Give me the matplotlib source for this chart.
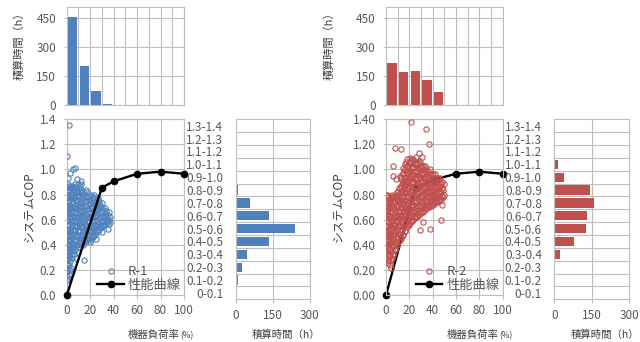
import matplotlib
matplotlib.use('Agg')
import matplotlib.pyplot as plt

plt.rcParams['font.family'] = ['Noto Sans CJK JP', 'DejaVu Sans']
plt.rcParams['font.size'] = 8

# ---------------------------------------------------------------------------
# data
# ---------------------------------------------------------------------------
load_bins = ['0-10', '10-20', '20-30', '30-40', '40-50',
             '50-60', '60-70', '70-80', '80-90', '90-100']
r1_load_hours = [455, 205, 75, 5, 0, 0, 0, 0, 0, 0]
r2_load_hours = [220, 170, 180, 130, 70, 0, 0, 0, 0, 0]

cop_bins = ['0-0.1', '0.1-0.2', '0.2-0.3', '0.3-0.4', '0.4-0.5', '0.5-0.6', '0.6-0.7',
            '0.7-0.8', '0.8-0.9', '0.9-1.0', '1.0-1.1', '1.1-1.2', '1.2-1.3', '1.3-1.4']
r1_cop_hours = [0, 8, 27, 44, 133, 240, 135, 56, 8, 0, 0, 0, 0, 0]
r2_cop_hours = [0, 3, 3, 21, 79, 128, 131, 157, 143, 40, 13, 1, 0, 3]

r1_curve_load = [0, 30, 40, 60, 80, 100]
r1_curve_cop = [0.0, 0.855, 0.905, 0.965, 0.982, 0.965]
r2_curve_load = [0, 25, 40, 60, 80, 100]
r2_curve_cop = [0.0, 0.85, 0.915, 0.965, 0.982, 0.965]

# (load %, system COP) of the measured hours
r1_points = [
    (0.3, 0.12), (0.6, 0.15), (0.4, 0.19), (0.8, 0.22), (0.5, 0.26), (1.0, 0.29), (0.3, 0.32),
    (0.7, 0.35), (1.2, 0.38), (0.4, 0.41), (0.9, 0.44), (0.5, 0.47), (1.3, 0.50), (0.3, 0.53),
    (0.8, 0.56), (0.5, 0.59), (1.1, 0.62), (0.4, 0.65), (0.9, 0.68), (0.6, 0.71), (1.4, 0.74),
    (0.3, 0.77), (0.8, 0.80), (0.5, 0.83), (1.2, 0.86), (0.7, 0.88),
    (1.8, 0.16), (2.0, 0.24), (1.7, 0.31), (2.2, 0.40), (1.9, 0.48), (2.3, 0.57), (1.6, 0.66),
    (2.1, 0.75), (1.8, 0.84),
    (3.2, 0.27), (3.5, 0.35), (3.0, 0.43), (3.8, 0.50), (3.3, 0.58), (3.6, 0.65), (3.1, 0.72),
    (3.9, 0.79), (3.4, 0.86),
    (4.6, 0.30), (5.0, 0.38), (4.4, 0.45), (5.3, 0.52), (4.8, 0.60), (5.5, 0.67), (4.5, 0.74),
    (5.2, 0.81), (4.9, 0.87),
    (6.1, 0.33), (6.5, 0.41), (6.0, 0.49), (6.8, 0.56), (6.3, 0.63), (6.9, 0.70), (6.2, 0.77),
    (6.6, 0.84),
    (7.4, 0.36), (7.9, 0.44), (7.3, 0.51), (8.2, 0.58), (7.6, 0.65), (8.4, 0.72), (7.8, 0.79),
    (8.1, 0.86),
    (9.2, 0.40), (9.6, 0.47), (9.0, 0.54), (9.9, 0.61), (9.4, 0.68), (10.0, 0.75), (9.3, 0.82),
    (9.8, 0.88),
    (10.8, 0.38), (11.3, 0.45), (10.6, 0.52), (11.5, 0.59), (11.0, 0.66), (11.7, 0.73),
    (10.9, 0.80), (11.4, 0.87),
    (12.5, 0.42), (13.0, 0.49), (12.3, 0.56), (13.2, 0.63), (12.7, 0.70), (13.4, 0.77),
    (12.6, 0.84),
    (14.3, 0.40), (14.8, 0.47), (14.1, 0.54), (15.0, 0.61), (14.5, 0.68), (15.2, 0.75),
    (14.6, 0.82),
    (16.0, 0.43), (16.5, 0.50), (15.8, 0.57), (16.8, 0.64), (16.2, 0.71), (16.9, 0.78),
    (16.4, 0.84),
    (17.6, 0.44), (18.1, 0.51), (17.5, 0.58), (18.4, 0.65), (17.9, 0.72), (18.6, 0.79),
    (19.3, 0.45), (19.8, 0.52), (19.1, 0.59), (20.1, 0.66), (19.6, 0.73), (20.3, 0.80),
    (21.0, 0.44), (21.5, 0.50), (20.9, 0.57), (21.8, 0.63), (21.3, 0.70), (22.0, 0.77),
    (22.7, 0.46), (23.2, 0.53), (22.5, 0.60), (23.5, 0.67), (23.0, 0.74), (23.6, 0.80),
    (24.4, 0.48), (24.9, 0.55), (24.2, 0.62), (25.2, 0.69), (24.7, 0.76),
    (26.1, 0.50), (26.6, 0.57), (25.9, 0.64), (26.9, 0.71), (26.4, 0.77),
    (27.8, 0.52), (28.3, 0.58), (27.6, 0.65), (28.6, 0.72),
    (29.5, 0.54), (30.0, 0.60), (29.3, 0.66), (30.3, 0.73),
    (31.2, 0.55), (31.8, 0.62), (31.0, 0.68),
    (32.9, 0.56), (33.4, 0.63), (32.7, 0.69),
    (34.6, 0.58), (35.1, 0.64), (36.0, 0.60), (35.5, 0.53), (36.8, 0.62),
    (2.0, 1.35), (0.6, 1.11), (7.0, 1.01), (5.0, 1.00), (3.0, 0.97), (1.5, 0.93), (9.0, 0.92),
    (12.0, 0.91), (15.0, 0.28), (8.0, 0.30), (10.0, 0.34), (4.0, 0.22), (20.0, 0.42),
    (25.0, 0.45), (30.0, 0.50),
    (1.0, 0.14), (0.2, 0.20), (1.3, 0.25), (0.2, 0.28), (1.5, 0.34), (0.2, 0.37), (1.6, 0.43),
    (0.2, 0.46), (1.7, 0.52), (0.2, 0.56), (1.5, 0.60), (0.2, 0.64), (1.6, 0.69), (0.2, 0.72),
    (1.5, 0.78), (0.2, 0.82), (1.6, 0.87),
    (2.7, 0.20), (2.8, 0.30), (2.6, 0.37), (2.9, 0.45), (2.7, 0.53), (2.8, 0.61), (2.6, 0.69),
    (2.9, 0.77), (2.7, 0.85),
    (4.1, 0.33), (4.3, 0.41), (4.0, 0.48), (4.2, 0.55), (4.1, 0.62), (4.3, 0.70), (4.0, 0.77),
    (4.2, 0.84),
    (5.7, 0.35), (5.9, 0.43), (5.6, 0.52), (5.8, 0.60), (5.7, 0.69), (5.9, 0.78), (5.6, 0.86),
    (7.0, 0.39), (7.2, 0.47), (6.9, 0.55), (7.1, 0.62), (7.0, 0.69), (7.2, 0.76), (6.9, 0.83),
    (7.1, 0.88),
    (8.6, 0.40), (8.8, 0.48), (8.5, 0.55), (8.7, 0.62), (8.6, 0.69), (8.8, 0.76), (8.5, 0.83),
    (10.3, 0.42), (10.5, 0.50), (10.2, 0.57), (10.4, 0.64), (10.3, 0.71), (10.5, 0.78),
    (10.2, 0.85),
    (12.0, 0.40), (12.1, 0.47), (11.9, 0.54), (12.1, 0.61), (12.0, 0.68), (12.1, 0.75),
    (11.9, 0.82), (12.0, 0.88),
    (13.7, 0.44), (13.9, 0.51), (13.6, 0.58), (13.8, 0.66), (13.7, 0.73), (13.9, 0.80),
    (15.4, 0.42), (15.6, 0.49), (15.3, 0.56), (15.5, 0.64), (15.4, 0.71), (15.6, 0.79),
    (17.1, 0.45), (17.3, 0.53), (17.0, 0.61), (17.2, 0.68), (17.1, 0.75), (17.3, 0.82),
    (18.8, 0.47), (19.0, 0.55), (18.7, 0.62), (18.9, 0.69), (18.8, 0.76),
    (20.5, 0.47), (20.7, 0.54), (20.4, 0.61), (20.6, 0.69), (20.5, 0.76),
    (22.2, 0.48), (22.4, 0.55), (22.1, 0.62), (22.3, 0.70), (22.2, 0.78),
    (23.9, 0.50), (24.1, 0.57), (23.8, 0.64), (24.0, 0.72),
    (25.6, 0.52), (25.8, 0.59), (25.5, 0.66), (25.7, 0.73),
    (27.2, 0.54), (27.4, 0.61), (27.1, 0.68), (27.3, 0.75),
    (28.9, 0.55), (29.1, 0.62), (28.8, 0.69),
    (30.6, 0.56), (30.8, 0.63), (30.5, 0.70),
    (32.2, 0.58), (32.4, 0.65), (34.0, 0.60), (33.9, 0.67), (35.8, 0.57), (37.0, 0.58),
    (36.2, 0.66),
]

r2_points = [
    (0.4, 0.30), (0.8, 0.35), (0.3, 0.40), (1.1, 0.45), (0.5, 0.50), (0.9, 0.55), (0.3, 0.60),
    (1.2, 0.65), (0.6, 0.70), (1.0, 0.75), (0.4, 0.80),
    (1.8, 0.28), (2.2, 0.33), (1.6, 0.38), (2.4, 0.43), (1.9, 0.48), (2.5, 0.53), (1.7, 0.58),
    (2.3, 0.63), (2.0, 0.68), (2.6, 0.73),
    (3.3, 0.24), (3.6, 0.31), (3.1, 0.37), (3.9, 0.43), (3.4, 0.49), (4.0, 0.55), (3.2, 0.61),
    (3.8, 0.67), (3.5, 0.72), (4.1, 0.77),
    (5.0, 0.30), (5.4, 0.36), (4.8, 0.42), (5.7, 0.48), (5.1, 0.54), (5.8, 0.60), (4.9, 0.66),
    (5.5, 0.71), (5.2, 0.77),
    (6.4, 0.33), (6.9, 0.39), (6.2, 0.45), (7.1, 0.51), (6.6, 0.57), (7.3, 0.63), (6.5, 0.69),
    (7.0, 0.75),
    (8.0, 0.36), (8.5, 0.42), (7.8, 0.48), (8.8, 0.54), (8.2, 0.60), (8.9, 0.66), (8.3, 0.72),
    (8.7, 0.78),
    (9.6, 0.40), (10.1, 0.46), (9.4, 0.52), (10.4, 0.58), (9.8, 0.64), (10.5, 0.70),
    (9.9, 0.76), (10.3, 0.82),
    (11.3, 0.43), (11.8, 0.49), (11.1, 0.55), (12.1, 0.61), (11.5, 0.67), (12.2, 0.73),
    (11.6, 0.79), (12.0, 0.85),
    (13.0, 0.46), (13.5, 0.52), (12.8, 0.58), (13.8, 0.64), (13.2, 0.70), (13.9, 0.76),
    (13.3, 0.82), (13.7, 0.88), (13.1, 0.94),
    (14.7, 0.48), (15.2, 0.55), (14.5, 0.61), (15.5, 0.67), (14.9, 0.73), (15.6, 0.79),
    (15.0, 0.85), (15.4, 0.91), (14.8, 0.97),
    (16.4, 0.51), (16.9, 0.58), (16.2, 0.64), (17.2, 0.70), (16.6, 0.76), (17.3, 0.82),
    (16.7, 0.88), (17.1, 0.94), (16.5, 1.00), (17.0, 1.06),
    (18.1, 0.54), (18.6, 0.60), (17.9, 0.67), (18.9, 0.73), (18.3, 0.79), (19.0, 0.85),
    (18.4, 0.91), (18.8, 0.97), (18.2, 1.03),
    (19.8, 0.56), (20.3, 0.62), (19.6, 0.69), (20.6, 0.75), (20.0, 0.81), (20.7, 0.87),
    (20.1, 0.93), (20.5, 0.99), (19.9, 1.05), (20.4, 1.09),
    (21.5, 0.58), (22.0, 0.64), (21.3, 0.71), (22.3, 0.77), (21.7, 0.83), (22.4, 0.89),
    (21.8, 0.95), (22.2, 1.01), (21.6, 1.07),
    (23.2, 0.60), (23.7, 0.66), (23.0, 0.72), (24.0, 0.78), (23.4, 0.84), (24.1, 0.90),
    (23.5, 0.96), (23.9, 1.02), (23.3, 1.08),
    (24.9, 0.61), (25.4, 0.67), (24.7, 0.74), (25.7, 0.80), (25.1, 0.86), (25.8, 0.92),
    (25.2, 0.98), (25.6, 1.04),
    (26.6, 0.62), (27.1, 0.68), (26.4, 0.75), (27.4, 0.81), (26.8, 0.87), (27.5, 0.93),
    (26.9, 0.99), (27.3, 1.05),
    (28.3, 0.64), (28.8, 0.70), (28.1, 0.76), (29.1, 0.82), (28.5, 0.88), (29.2, 0.94),
    (28.6, 1.00), (29.0, 1.06),
    (30.0, 0.65), (30.5, 0.71), (29.8, 0.78), (30.8, 0.84), (30.2, 0.90), (30.9, 0.96),
    (30.3, 1.02),
    (31.7, 0.66), (32.2, 0.72), (31.5, 0.79), (32.5, 0.85), (31.9, 0.91), (32.6, 0.97),
    (32.0, 1.03),
    (33.4, 0.68), (33.9, 0.74), (33.2, 0.80), (34.2, 0.86), (33.6, 0.92), (34.3, 0.98),
    (33.7, 1.03),
    (35.1, 0.69), (35.6, 0.75), (34.9, 0.81), (35.9, 0.87), (35.3, 0.93), (36.0, 0.99),
    (36.8, 0.70), (37.3, 0.76), (36.6, 0.82), (37.6, 0.88), (37.0, 0.94), (37.7, 1.00),
    (38.5, 0.71), (39.0, 0.77), (38.3, 0.83), (39.3, 0.89), (38.7, 0.95),
    (40.2, 0.72), (40.7, 0.78), (40.0, 0.84), (41.0, 0.90), (40.4, 0.96),
    (41.9, 0.73), (42.4, 0.79), (41.7, 0.85), (42.7, 0.91), (42.1, 0.96),
    (43.6, 0.74), (44.1, 0.80), (43.4, 0.86), (44.4, 0.92),
    (45.3, 0.75), (45.8, 0.81), (45.1, 0.87), (46.1, 0.93),
    (47.0, 0.76), (47.5, 0.82), (46.8, 0.88), (47.8, 0.90),
    (48.6, 0.78), (49.0, 0.84), (48.4, 0.72),
    (21.0, 1.38), (34.0, 1.32), (37.0, 1.20), (7.4, 1.17), (13.0, 1.16), (28.0, 1.13),
    (26.0, 1.10), (31.0, 1.10), (6.0, 1.03), (6.0, 0.95), (12.0, 0.95), (8.5, 0.92),
    (1.0, 0.80), (5.0, 0.80), (9.0, 0.80), (1.0, 0.74), (29.0, 0.52), (38.0, 0.53),
    (47.0, 0.60), (32.0, 0.58), (2.0, 0.26), (4.0, 0.22),
    (0.2, 0.33), (1.4, 0.38), (0.2, 0.43), (1.5, 0.48), (0.2, 0.53), (1.4, 0.58), (0.2, 0.63),
    (1.5, 0.68), (0.2, 0.73), (1.4, 0.78),
    (2.8, 0.27), (2.9, 0.36), (2.7, 0.41), (2.9, 0.46), (2.8, 0.51), (3.0, 0.57), (2.7, 0.64),
    (2.9, 0.70), (2.8, 0.76),
    (4.4, 0.28), (4.6, 0.34), (4.3, 0.40), (4.5, 0.46), (4.4, 0.52), (4.6, 0.58), (4.3, 0.63),
    (4.5, 0.69), (4.4, 0.75),
    (5.9, 0.32), (6.1, 0.39), (5.8, 0.45), (6.0, 0.51), (5.9, 0.57), (6.1, 0.63), (5.8, 0.69),
    (6.0, 0.75), (5.9, 0.79),
    (7.5, 0.37), (7.6, 0.43), (7.4, 0.50), (7.6, 0.56), (7.5, 0.62), (7.6, 0.68), (7.4, 0.74),
    (7.6, 0.79),
    (9.1, 0.40), (9.2, 0.46), (9.0, 0.52), (9.2, 0.58), (9.1, 0.64), (9.2, 0.70), (9.0, 0.76),
    (9.2, 0.82),
    (10.8, 0.43), (10.9, 0.49), (10.7, 0.55), (10.9, 0.61), (10.8, 0.67), (10.9, 0.73),
    (10.7, 0.79), (10.9, 0.85),
    (12.5, 0.45), (12.6, 0.51), (12.4, 0.57), (12.6, 0.63), (12.5, 0.69), (12.6, 0.75),
    (12.4, 0.81), (12.6, 0.87), (12.5, 0.92),
    (14.2, 0.48), (14.3, 0.54), (14.1, 0.60), (14.3, 0.66), (14.2, 0.72), (14.3, 0.78),
    (14.1, 0.84), (14.3, 0.90), (14.2, 0.96), (14.3, 1.01),
    (15.9, 0.51), (16.0, 0.57), (15.8, 0.63), (16.0, 0.69), (15.9, 0.75), (16.0, 0.81),
    (15.8, 0.87), (16.0, 0.93), (15.9, 0.99), (16.0, 1.04),
    (17.6, 0.55), (17.7, 0.61), (17.5, 0.67), (17.7, 0.73), (17.6, 0.79), (17.7, 0.85),
    (17.5, 0.91), (17.7, 0.97), (17.6, 1.03), (17.7, 1.08),
    (19.3, 0.57), (19.4, 0.63), (19.2, 0.69), (19.4, 0.75), (19.3, 0.81), (19.4, 0.87),
    (19.2, 0.93), (19.4, 0.99), (19.3, 1.05),
    (21.0, 0.59), (21.1, 0.65), (20.9, 0.71), (21.1, 0.77), (21.0, 0.83), (21.1, 0.89),
    (20.9, 0.95), (21.1, 1.01), (21.0, 1.07),
    (22.7, 0.60), (22.8, 0.66), (22.6, 0.72), (22.8, 0.78), (22.7, 0.84), (22.8, 0.90),
    (22.6, 0.96), (22.8, 1.02), (22.7, 1.08),
    (24.4, 0.62), (24.5, 0.68), (24.3, 0.74), (24.5, 0.80), (24.4, 0.86), (24.5, 0.92),
    (24.3, 0.98), (24.5, 1.04),
    (26.1, 0.63), (26.2, 0.69), (26.0, 0.75), (26.2, 0.81), (26.1, 0.87), (26.2, 0.93),
    (26.0, 0.99), (26.2, 1.05),
    (27.8, 0.65), (27.9, 0.71), (27.7, 0.77), (27.9, 0.83), (27.8, 0.89), (27.9, 0.95),
    (27.7, 1.01), (27.9, 1.07),
    (29.5, 0.66), (29.6, 0.72), (29.4, 0.78), (29.6, 0.84), (29.5, 0.90), (29.6, 0.96),
    (29.4, 1.02),
    (31.2, 0.67), (31.3, 0.73), (31.1, 0.79), (31.3, 0.85), (31.2, 0.91), (31.3, 0.97),
    (31.1, 1.03),
    (32.9, 0.69), (33.0, 0.75), (32.8, 0.81), (33.0, 0.87), (32.9, 0.93), (33.0, 0.99),
    (34.6, 0.70), (34.7, 0.76), (34.5, 0.82), (34.7, 0.88), (34.6, 0.94), (34.7, 1.00),
    (36.3, 0.71), (36.4, 0.77), (36.2, 0.83), (36.4, 0.89), (36.3, 0.95),
    (38.0, 0.72), (38.1, 0.78), (37.9, 0.84), (38.1, 0.90), (38.0, 0.96),
    (39.7, 0.73), (39.8, 0.79), (39.6, 0.85), (39.8, 0.91), (39.7, 0.96),
    (41.4, 0.74), (41.5, 0.80), (41.3, 0.86), (41.5, 0.92),
    (43.1, 0.75), (43.2, 0.81), (43.0, 0.87), (43.2, 0.93),
    (44.8, 0.76), (44.9, 0.82), (44.7, 0.88), (44.9, 0.93),
    (46.5, 0.77), (46.6, 0.83), (46.4, 0.89),
    (48.0, 0.79), (48.1, 0.85), (49.5, 0.80), (49.3, 0.88),
]

# ---------------------------------------------------------------------------
# styling
# ---------------------------------------------------------------------------
GRID = '#BFBFBF'
TEXT = '#595959'
LABEL = '#404040'
BLUE = '#4F81BD'
RED = '#C0504D'
W, H = 640., 342.


def place(fig, left, right, top, bottom):
    """ add an axes given pixel edges of the reference """
    return fig.add_axes([left / W, 1 - bottom / H, (right - left) / W, (bottom - top) / H])


def base_style(ax):
    for s in ax.spines.values():
        s.set_color(GRID)
        s.set_linewidth(0.8)
    ax.tick_params(colors=TEXT, color=GRID, labelsize=8.5)
    ax.set_axisbelow(True)


def load_hist(ax, hours, color):
    """ load-ratio histogram above the scatter """
    centers = [5 + 10 * i for i in range(len(load_bins))]
    ax.bar(centers, hours, width=8, color=color)
    ax.set_xlim(0, 100)
    ax.set_ylim(0, 507)
    ax.set_xticks(range(0, 101, 10))
    ax.set_yticks([0, 150, 300, 450])
    ax.tick_params(axis='x', length=0, labelbottom=False)
    ax.tick_params(axis='y', length=2.5, direction='out', pad=5)
    ax.grid(True, color=GRID, linewidth=0.8)
    base_style(ax)


def cop_scatter(ax, points, curve_x, curve_y, color, label, fmt, curve_on_top):
    """ system COP vs load ratio with the performance curve """
    xs = [p[0] for p in points]
    ys = [p[1] for p in points]
    ax.plot(xs, ys, 'o', linestyle='none',
            markerfacecolor='none',
            markeredgecolor=color,
            markersize=3.8,
            markeredgewidth=0.8,
            label=label,
            zorder=3)
    ax.plot(curve_x, curve_y, '-o',
            color='black',
            linewidth=1.7,
            markersize=4.5,
            label='性能曲線',
            clip_on=False,
            zorder=4 if curve_on_top else 2)
    ax.set_xlim(0, 100)
    ax.set_ylim(0, 1.4)
    ax.set_xticks(range(0, 101, 20))
    ax.set_yticks([0.2 * k for k in range(8)])
    ax.set_yticklabels([fmt % (0.2 * k) for k in range(8)])
    ax.tick_params(axis='y', length=2.5, direction='out', pad=5)
    ax.tick_params(axis='x', length=3, direction='out', pad=3)
    ax.grid(True, color=GRID, linewidth=0.8)
    ax.legend(loc='lower right',
              frameon=False,
              fontsize=9.5,
              numpoints=1,
              handlelength=2.0,
              handletextpad=0.3,
              labelspacing=0.05,
              borderaxespad=0.15,
              borderpad=0.1,
              labelcolor=TEXT)
    base_style(ax)


def cop_hist(ax, hours, color):
    """ hours per COP class, horizontal bars """
    pos = list(range(len(cop_bins)))
    ax.barh(pos, hours, height=0.72, color=color)
    ax.set_ylim(-0.5, len(cop_bins) - 0.5)
    ax.set_yticks(pos)
    ax.set_yticklabels(cop_bins)
    ax.set_yticks([k - 0.5 for k in range(1, len(cop_bins))], minor=True)
    ax.set_xlim(0, 300)
    ax.set_xticks([0, 150, 300])
    ax.grid(True, which='minor', axis='y', color=GRID, linewidth=0.8)
    ax.grid(True, which='major', axis='x', color=GRID, linewidth=0.8)
    ax.tick_params(axis='y', which='both', length=0, pad=9)
    ax.tick_params(axis='x', length=3, direction='out', pad=4)
    base_style(ax)


fig = plt.figure(figsize=(6.4, 3.42), dpi=100)

# pixel edges: scatter left/right, COP-hist left/right, y-label anchors, x offset of the panel
panels = [
    (66.7, 184.0, 235.7, 310.0, 24.5, 35, 0,
     r1_load_hours, r1_points, r1_curve_load, r1_curve_cop, r1_cop_hours, BLUE, 'R-1', '%.1f', True),
    (386.0, 502.7, 554.3, 629.3, 335, 344, 319,
     r2_load_hours, r2_points, r2_curve_load, r2_curve_cop, r2_cop_hours, RED, 'R-2', '%.2f', False),
]

for (l, r, hl, hr, top_lab, sc_lab, off, load_hours, pts, cx, cy, cop_hours,
     color, label, fmt, on_top) in panels:
    ax_top = place(fig, l, r, 7.3, 105.3)
    load_hist(ax_top, load_hours, color)
    ax_top.set_ylabel('積算時間（h）', fontsize=8, color=LABEL)
    ax_top.yaxis.set_label_coords((top_lab - l) / (r - l), 0.63)

    ax_sc = place(fig, l, r, 119.0, 295.3)
    cop_scatter(ax_sc, pts, cx, cy, color, label, fmt, on_top)
    ax_sc.set_ylabel('システムCOP', fontsize=8.5, color=LABEL)
    ax_sc.yaxis.set_label_coords((sc_lab - l) / (r - l), 0.5)

    ax_h = place(fig, hl, hr, 119.3, 299.3)
    cop_hist(ax_h, cop_hours, color)

    fig.text((180 + off) / W, 1 - 335 / H, '機器負荷率', ha='right', va='center',
             fontsize=7.5, color=LABEL)
    fig.text((180 + off) / W, 1 - 336 / H, '(%)', ha='left', va='center',
             fontsize=6, color=LABEL)
    fig.text((286 + off) / W, 1 - 335 / H, '積算時間（h）', ha='center', va='center',
             fontsize=7.5, color=LABEL)

fig.savefig('out.png', dpi=100)
